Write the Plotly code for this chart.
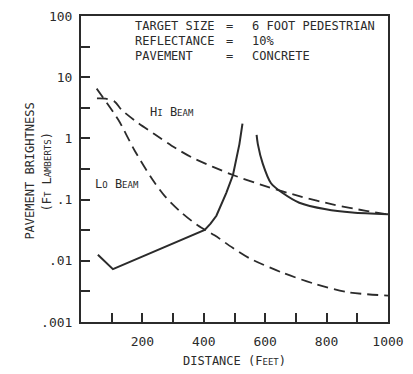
import plotly.graph_objects as go

# ---- data ----
hi_x = [52, 80, 110, 132, 186, 240, 295, 359, 430, 495, 603, 711, 819, 928, 1000]
hi_y = [4.5, 4.45, 3.97, 2.93, 1.79, 1.17, 0.76, 0.495, 0.343, 0.252, 0.164, 0.114, 0.0836, 0.0655, 0.057]

lo_x = [51, 121, 175, 230, 273, 327, 381, 435, 494, 549, 657, 765, 873, 1000]
lo_y = [6.5, 2.03, 0.63, 0.223, 0.114, 0.0615, 0.0377, 0.0261, 0.0163, 0.011, 0.00637,
        0.00415, 0.00305, 0.0027]

tgt_left_x = [55, 104, 403, 422, 441, 473, 495, 506, 516, 526]
tgt_left_y = [0.0126, 0.0073, 0.032, 0.0405, 0.0545, 0.128, 0.252, 0.495, 0.807, 1.75]

tgt_right_x = [572, 576, 592, 619, 657, 711, 798, 884, 1000]
tgt_right_y = [1.14, 0.807, 0.387, 0.185, 0.128, 0.089, 0.0695, 0.0615, 0.0575]

x_ticks = [100, 200, 300, 400, 500, 600, 700, 800, 900, 1000]
x_labels = ["", "200", "", "400", "", "600", "", "800", "", "1000"]
y_ticks = [0.001, 0.00316, 0.01, 0.0316, 0.1, 0.316, 1, 3.16, 10, 31.6, 100]
y_labels = [".001", "", ".01", "", ".1", "", "1", "", "10", "", "100"]

INK = "#2b2b2b"
FONT = "DejaVu Sans Mono"

fig = go.Figure()
dash = "11px,6px"
fig.add_trace(go.Scatter(x=hi_x, y=hi_y, mode="lines", line=dict(color=INK, width=1.8, dash=dash, shape="spline", smoothing=0.8)))
fig.add_trace(go.Scatter(x=lo_x, y=lo_y, mode="lines", line=dict(color=INK, width=1.8, dash=dash, shape="spline", smoothing=0.8)))
fig.add_trace(go.Scatter(x=tgt_left_x, y=tgt_left_y, mode="lines", line=dict(color=INK, width=2)))
fig.add_trace(go.Scatter(x=tgt_right_x, y=tgt_right_y, mode="lines", line=dict(color=INK, width=2, shape="spline", smoothing=0.8)))

axis_common = dict(showline=True, linecolor=INK, linewidth=2, mirror=True,
                   ticks="inside", ticklen=9, tickwidth=2, tickcolor=INK,
                   showgrid=False, zeroline=False,
                   tickfont=dict(family=FONT, size=13, color=INK))

fig.update_xaxes(range=[0, 1000], tickmode="array", tickvals=x_ticks, ticktext=x_labels,
                 ticklabelstandoff=6, **axis_common)
fig.update_yaxes(type="log", range=[-3, 2], tickmode="array", tickvals=y_ticks, ticktext=y_labels,
                 ticklabelstandoff=4, **axis_common)

def px_x(p):
    return (p - 81) / 308

def px_y(p):
    return (322 - p) / 313

anns = []
def add(text, x, y, xanchor="left", size=12, angle=0):
    anns.append(dict(text=text, x=px_x(x), y=px_y(y), xref="paper", yref="paper",
                     xanchor=xanchor, yanchor="middle", showarrow=False, textangle=angle,
                     font=dict(family=FONT, size=size, color=INK)))

rows = [("TARGET SIZE", "6 FOOT PEDESTRIAN", 19), ("REFLECTANCE", "10%", 35), ("PAVEMENT", "CONCRETE", 50)]
for lab, val, yy in rows:
    add(lab, 133, yy)
    add("=", 230, yy, xanchor="center")
    add(val, 251, yy)

sm = "<span style='font-size:9px'>%s</span>"
add("H" + sm % "I" + " B" + sm % "EAM", 172, 107, xanchor="center")
add("L" + sm % "O" + " B" + sm % "EAM", 117, 181, xanchor="center")
add("DISTANCE (F" + sm % "EET" + ")", 235, 362, xanchor="center")
add("PAVEMENT BRIGHTNESS", 30, 168, xanchor="center", angle=-90)
add("(F" + sm % "T" + " L" + sm % "AMBERTS" + ")", 47, 168, xanchor="center", angle=-90)

fig.update_layout(width=413, height=374, margin=dict(l=81, r=24, t=9, b=52),
                  paper_bgcolor="white", plot_bgcolor="white", showlegend=False,
                  annotations=anns)

fig.write_html("out.html")
